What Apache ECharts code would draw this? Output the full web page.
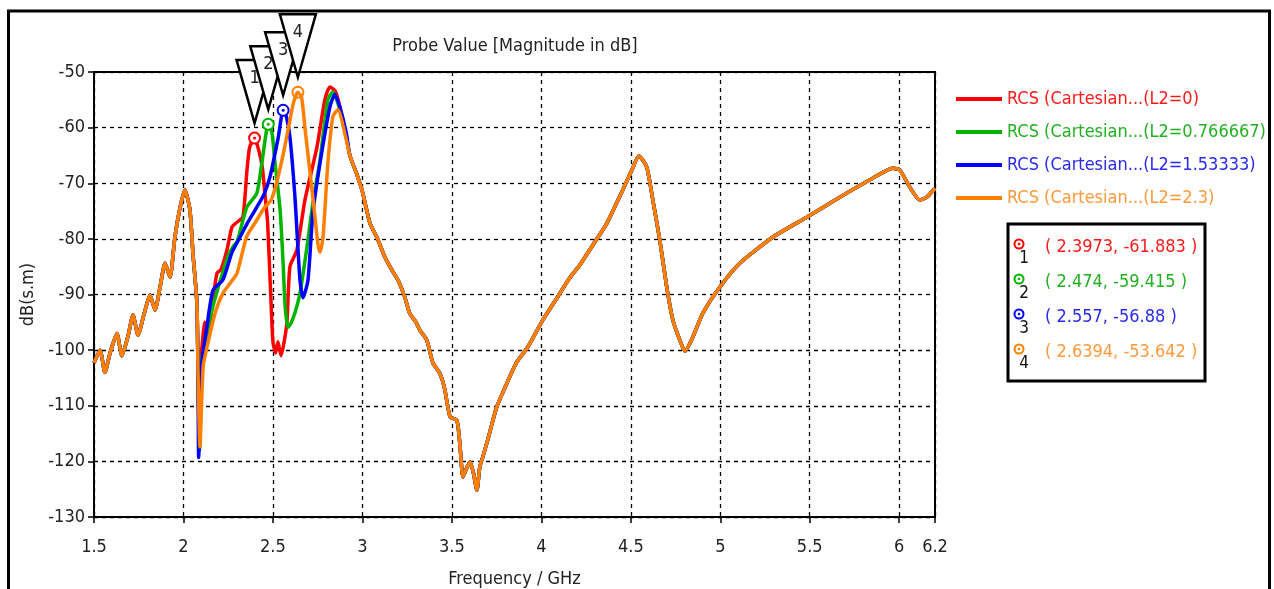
<!DOCTYPE html>
<html><head><meta charset="utf-8">
<script src="https://cdn.jsdelivr.net/npm/echarts@6/dist/echarts.min.js"></script>
<style>html,body{margin:0;padding:0;background:#fff}#c{width:1274px;height:589px}</style>
</head><body><div id="c"></div>
<script>
const FONT = '"DejaVu Sans Condensed","Liberation Sans Narrow","DejaVu Sans",sans-serif';
const seriesNames = ['RCS (Cartesian...(L2=0)', 'RCS (Cartesian...(L2=0.766667)', 'RCS (Cartesian...(L2=1.53333)', 'RCS (Cartesian...(L2=2.3)'];
const seriesColors = ['#ff0000', '#00b400', '#0000ff', '#ff8000'];
const legendTextColors = ['#ff1a1a', '#22b022', '#2a2aee', '#ff9a3c'];

// shared low-frequency part (all four curves coincide)
const lowFreq = [1.5, 1.534, 1.561, 1.59, 1.628, 1.656, 1.69, 1.718, 1.746, 1.78, 1.813, 1.841, 1.87, 1.897, 1.925, 1.952, 1.98, 2.008, 2.036, 2.053, 2.075, 2.081];
const lowDb = [-102.3, -100.0, -104, -100.5, -97, -101, -97.5, -93.7, -97.3, -93.5, -90.1, -92.8, -88.5, -84.4, -86.9, -79.7, -74.5, -71.2, -74.8, -82.6, -91.5, -103.6];

// individual parts between 2.08 and 2.93 GHz
const redFreq = [2.09, 2.1, 2.12, 2.135, 2.16, 2.187, 2.21, 2.243, 2.271, 2.299, 2.332, 2.355, 2.37, 2.3973, 2.42, 2.44, 2.455, 2.47, 2.485, 2.5, 2.515, 2.528, 2.545, 2.56, 2.578, 2.595, 2.634, 2.679, 2.746, 2.79, 2.818, 2.85, 2.89];
const redDb = [-117.5, -101, -95, -97.5, -92, -86.2, -85.5, -82, -77.9, -77, -76.1, -67.6, -63.5, -61.883, -64, -67, -71.8, -77, -88, -98.5, -100.5, -98.5, -101, -99, -95, -85, -82, -73, -63.5, -55, -52.7, -53.5, -58.5];
const greenFreq = [2.09, 2.1, 2.12, 2.15, 2.187, 2.22, 2.25, 2.277, 2.3, 2.354, 2.41, 2.438, 2.474, 2.495, 2.51, 2.54, 2.556, 2.568, 2.584, 2.6, 2.623, 2.651, 2.69, 2.723, 2.763, 2.807, 2.835, 2.863, 2.9];
const greenDb = [-118, -102, -98.7, -94, -89.5, -86, -83, -81.4, -80.5, -74.3, -71.8, -66.4, -59.415, -61, -65.8, -74.8, -83.8, -92, -95.9, -95.2, -93.3, -89.8, -81.5, -73.6, -65.8, -55, -53.6, -55.6, -60];
const blueFreq = [2.085, 2.1, 2.13, 2.165, 2.22, 2.27, 2.316, 2.36, 2.41, 2.45, 2.483, 2.53, 2.557, 2.575, 2.595, 2.623, 2.651, 2.668, 2.696, 2.723, 2.763, 2.818, 2.846, 2.874, 2.91];
const blueDb = [-119.3, -103, -96, -89.2, -87.4, -82.5, -79.7, -77, -74.3, -72, -68.9, -61.7, -56.88, -58, -61.7, -72.5, -87.4, -90.6, -87.4, -75.4, -66.4, -56.3, -54, -56.3, -61];
const orangeFreq = [2.092, 2.11, 2.137, 2.18, 2.22, 2.26, 2.299, 2.353, 2.41, 2.45, 2.49, 2.52, 2.556, 2.59, 2.615, 2.6394, 2.66, 2.68, 2.723, 2.751, 2.763, 2.78, 2.807, 2.835, 2.863, 2.91];
const orangeDb = [-117.4, -103, -98.7, -93, -89.8, -88, -86.2, -79.6, -76.6, -74.5, -73, -70, -65, -59.5, -55.5, -53.642, -54.5, -60.4, -72.5, -80.8, -82.4, -79.7, -66.4, -58, -56.8, -62.2];

// shared high-frequency part
const highFreq = [2.93, 2.97, 3.0, 3.042, 3.081, 3.126, 3.165, 3.2, 3.237, 3.265, 3.3, 3.321, 3.36, 3.394, 3.433, 3.46, 3.49, 3.528, 3.545, 3.562, 3.585, 3.601, 3.62, 3.64, 3.656, 3.673, 3.7, 3.75, 3.8, 3.86, 3.925, 4.008, 4.08, 4.159, 4.215, 4.29, 4.366, 4.455, 4.506, 4.545, 4.589, 4.623, 4.662, 4.701, 4.735, 4.774, 4.802, 4.846, 4.902, 4.997, 5.109, 5.293, 5.483, 5.668, 5.852, 5.964, 6.003, 6.059, 6.115, 6.154, 6.2];
const highDb = [-65, -68.5, -71.5, -77.2, -79.7, -83.3, -85.6, -87.5, -90.5, -93.4, -95, -96.4, -98.2, -102.3, -104.2, -107, -112, -112.6, -117, -122.8, -121, -120.1, -122, -125.2, -121, -119.2, -116.2, -110.3, -106.5, -102.3, -99.4, -94.6, -91, -87, -84.7, -81, -77.2, -71.2, -67.6, -65.1, -67.1, -73, -80.2, -88.7, -94.6, -98.2, -100.2, -97.7, -93.4, -88.7, -84.4, -79.7, -76.1, -72.5, -69.1, -67.3, -67.6, -70.7, -73, -72.5, -70.9];

const midFreqs = [redFreq, greenFreq, blueFreq, orangeFreq];
const midDbs = [redDb, greenDb, blueDb, orangeDb];

// markers
const markerFreq = [2.3973, 2.474, 2.557, 2.6394];
const markerDb = [-61.883, -59.415, -56.88, -53.642];
const markerLabels = ['1', '2', '3', '4'];

// axes
const xMin = 1.5, xMax = 6.2, xStep = 0.5;
const yMin = -130, yMax = -50, yStep = 10;

function buildData(i) {
  const f = lowFreq.concat(midFreqs[i], highFreq);
  const d = lowDb.concat(midDbs[i], highDb);
  return f.map((v, k) => [v, d[k]]);
}

const chart = echarts.init(document.getElementById('c'), null, {renderer: 'canvas'});

const lineSeries = seriesNames.map((name, i) => ({
  name: name,
  type: 'line',
  data: buildData(i),
  showSymbol: false,
  smooth: 0.2,
  color: seriesColors[i],
  lineStyle: {width: 3.5, color: seriesColors[i]},
  z: 2 + i,
  animation: false,
  markPoint: {
    silent: true,
    label: {show: false},
    animation: false,
    data: [
      {coord: [markerFreq[i], markerDb[i]], symbol: 'circle', symbolSize: 11, itemStyle: {color: '#fff', borderColor: seriesColors[i], borderWidth: 2}},
      {coord: [markerFreq[i], markerDb[i]], symbol: 'circle', symbolSize: 3, itemStyle: {color: seriesColors[i]}}
    ]
  }
}));

const triangleSeries = {
  type: 'custom',
  name: 'markers',
  coordinateSystem: 'cartesian2d',
  clip: false,
  silent: true,
  z: 10,
  animation: false,
  data: markerFreq.map((f, i) => [f, markerDb[i], i]),
  renderItem: function (params, api) {
    const p = api.coord([api.value(0), api.value(1)]);
    const idx = api.value(2);
    return {
      type: 'group',
      children: [
        {type: 'polygon', shape: {points: [[p[0] - 18, p[1] - 78], [p[0] + 18, p[1] - 78], [p[0], p[1] - 15]]},
          style: {fill: '#fff', stroke: '#000', lineWidth: 2.5}},
        {type: 'text', x: p[0], y: p[1] - 60,
          style: {text: markerLabels[idx], fill: '#222', font: '18px ' + FONT, align: 'center', verticalAlign: 'middle'}}
      ]
    };
  }
};

const boxChildren = [
  {type: 'rect', shape: {x: 1008, y: 224, width: 197, height: 157}, style: {fill: '#fff', stroke: '#000', lineWidth: 3}}
];
const rowY = [247, 282, 317, 352];
markerFreq.forEach((f, i) => {
  boxChildren.push({type: 'circle', shape: {cx: 1019, cy: rowY[i] - 3, r: 4.5}, style: {fill: '#fff', stroke: seriesColors[i], lineWidth: 2}});
  boxChildren.push({type: 'circle', shape: {cx: 1019, cy: rowY[i] - 3, r: 1.3}, style: {fill: seriesColors[i]}});
  boxChildren.push({type: 'text', x: 1024, y: rowY[i] + 12, style: {text: markerLabels[i], fill: '#111', font: '17px ' + FONT, align: 'center', verticalAlign: 'middle'}});
  boxChildren.push({type: 'text', x: 1045, y: rowY[i], style: {text: '( ' + f + ', ' + markerDb[i] + ' )', fill: legendTextColors[i], font: '18px ' + FONT, align: 'left', verticalAlign: 'middle'}});
});

const option = {
  backgroundColor: '#fff',
  animation: false,
  grid: {left: 94, right: 339, top: 72, bottom: 72, show: true, borderColor: '#000', borderWidth: 2, backgroundColor: '#fff', containLabel: false, outerBoundsMode: 'none'},
  xAxis: {
    type: 'value', min: xMin, max: xMax, interval: xStep,
    name: 'Frequency / GHz', nameLocation: 'middle', nameGap: 53,
    nameTextStyle: {fontFamily: FONT, fontSize: 18, color: '#222'},
    axisLine: {show: true, onZero: false, lineStyle: {color: '#000', width: 2}},
    axisTick: {show: true, length: 6, lineStyle: {color: '#000', width: 1.5}},
    axisLabel: {fontFamily: FONT, fontSize: 18, color: '#222', margin: 21, hideOverlap: false},
    splitLine: {show: true, lineStyle: {type: [4, 4], color: '#000', width: 1.3}}
  },
  yAxis: {
    type: 'value', min: yMin, max: yMax, interval: yStep,
    name: 'dB(s.m)', nameLocation: 'middle', nameGap: 53, nameRotate: 90,
    nameTextStyle: {fontFamily: FONT, fontSize: 18, color: '#222'},
    axisLine: {show: true, onZero: false, lineStyle: {color: '#000', width: 2}},
    axisTick: {show: true, length: 6, lineStyle: {color: '#000', width: 1.5}},
    axisLabel: {fontFamily: FONT, fontSize: 18, color: '#222', margin: 9},
    splitLine: {show: true, lineStyle: {type: [4, 4], color: '#000', width: 1.3}}
  },
  legend: {
    orient: 'vertical', left: 951, top: 85, itemWidth: 46, itemHeight: 4, itemGap: 15,
    icon: 'rect', selectedMode: false,
    textStyle: {fontFamily: FONT, fontSize: 18},
    data: seriesNames.map((n, i) => ({name: n, textStyle: {color: legendTextColors[i]}}))
  },
  graphic: [
    {type: 'rect', shape: {x: 8.5, y: 11, width: 1261, height: 640}, style: {fill: 'none', stroke: '#000', lineWidth: 3}, z: 0, silent: true},
    {type: 'text', x: 515, y: 46, style: {text: 'Probe Value [Magnitude in dB]', fill: '#222', font: '18px ' + FONT, align: 'center', verticalAlign: 'middle'}, silent: true},
    {type: 'group', children: boxChildren, silent: true}
  ],
  series: lineSeries.concat([triangleSeries])
};
chart.setOption(option);
</script>
</body></html>
